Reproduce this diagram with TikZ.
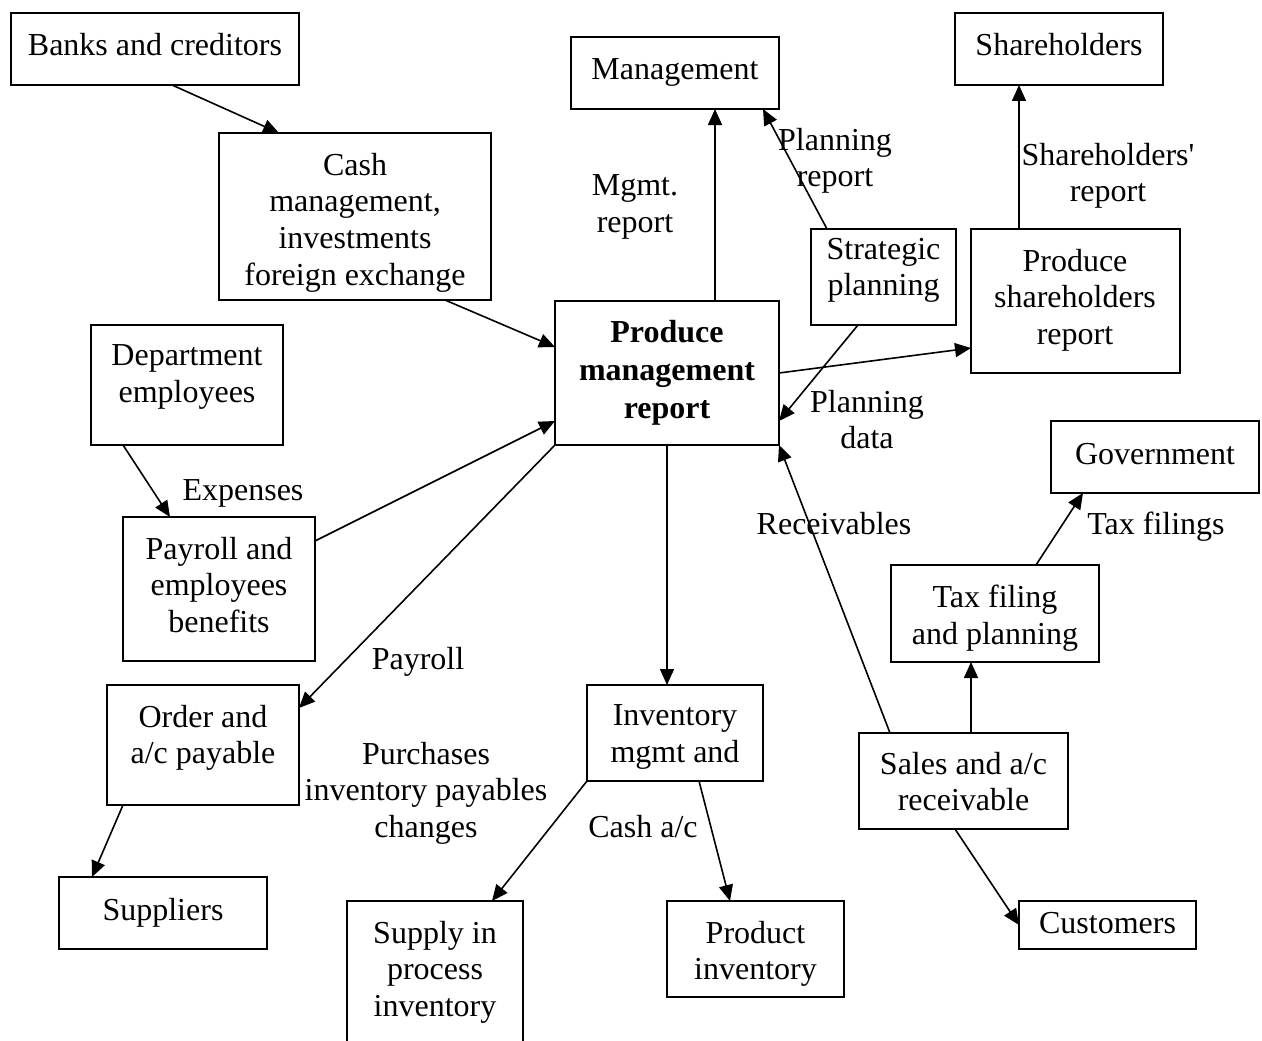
\documentclass[tikz,border=0pt]{standalone}
\usepackage{fontspec}
\setmainfont{Liberation Serif}
\usetikzlibrary{arrows.meta}
\begin{document}
\begin{tikzpicture}[x=1pt,y=-1pt,
  box/.style={draw, line width=1.6pt, rectangle, inner sep=0pt, outer sep=0pt},
  lbl/.style={anchor=north, yshift=23.76pt, inner sep=0pt, align=center,
    font=\fontsize{32}{36.8}\selectfont, execute at begin node=\strut},
  ml/.style={lbl, yshift=-3.5pt},
  flow/.style={line width=1.6pt, -{Triangle[length=16pt,width=14pt]}},
]
\fill[white] (0,0) rectangle (1262,1041);
\useasboundingbox (0,0) rectangle (1262,1041);
\clip (0,0) rectangle (1262,1041);

% process and entity boxes
\node[box, minimum width=288pt, minimum height=72pt]  (banks) at (155,49) {};
\node[box, minimum width=272pt, minimum height=167pt] (cash)  at (355,216.5) {};
\node[box, minimum width=208pt, minimum height=72pt]  (mgmt)  at (675,73) {};
\node[box, minimum width=208pt, minimum height=72pt]  (share) at (1059,49) {};
\node[box, minimum width=145pt, minimum height=96pt]  (strat) at (883.5,277) {};
\node[box, minimum width=209pt, minimum height=144pt] (psr)   at (1075.5,301) {};
\node[box, minimum width=224pt, minimum height=144pt] (main)  at (667,373) {};
\node[box, minimum width=192pt, minimum height=120pt] (dept)  at (187,385) {};
\node[box, minimum width=192pt, minimum height=144pt] (pay)   at (219,589) {};
\node[box, minimum width=192pt, minimum height=120pt] (order) at (203,745) {};
\node[box, minimum width=208pt, minimum height=72pt]  (supp)  at (163,913) {};
\node[box, minimum width=176pt, minimum height=160pt] (wip)   at (435,981) {};
\node[box, minimum width=176pt, minimum height=96pt]  (inv)   at (675,733) {};
\node[box, minimum width=177pt, minimum height=96pt]  (prod)  at (755.5,949) {};
\node[box, minimum width=208pt, minimum height=72pt]  (gov)   at (1155,457) {};
\node[box, minimum width=208pt, minimum height=97pt]  (tax)   at (995,613.5) {};
\node[box, minimum width=209pt, minimum height=96pt]  (sales) at (963.5,781) {};
\node[box, minimum width=177pt, minimum height=48pt]  (cust)  at (1107.5,925) {};

% flows
\draw[flow] ([xshift=17pt]banks.south) -- ([xshift=-76pt]cash.north);
\draw[flow] ([xshift=90pt]cash.south) -- ([yshift=26pt]main.west);
\draw[flow] ([xshift=48pt]main.north) -- ([xshift=48pt]main.north |- mgmt.south);
\draw[flow] ([xshift=-56.5pt]strat.north) -- ([xshift=-16pt]mgmt.south east);
\draw[flow] ([xshift=-25.5pt]strat.south) -- ([yshift=-48pt]main.east);
\draw[flow] (main.east) -- ([yshift=-47pt]psr.west);
\draw[flow] ([xshift=-56.5pt]psr.north) -- ([xshift=-56.5pt]psr.north |- share.south);
\draw[flow] ([xshift=-64pt]dept.south) -- ([xshift=-49pt]pay.north);
\draw[flow] ([yshift=48pt]pay.east) -- ([yshift=-48pt]main.west);
\draw[flow] (main.south west) -- ([yshift=37pt]order.east);
\draw[flow] ([xshift=-80pt]order.south) -- ([xshift=-71pt]supp.north);
\draw[flow] (main.south) -- (main.south |- inv.north);
\draw[flow] (inv.south west) -- ([xshift=57pt]wip.north);
\draw[flow] ([xshift=24pt]inv.south) -- ([xshift=-25.5pt]prod.north);
\draw[flow] ([xshift=-73.5pt]sales.north) -- (main.south east);
\draw[flow] ([xshift=7.5pt]sales.north) -- ([xshift=7.5pt]sales.north |- tax.south);
\draw[flow] ([xshift=41pt]tax.north) -- ([xshift=-72pt]gov.south);
\draw[flow] ([xshift=-8.5pt]sales.south) -- (cust.west);

% box texts (coordinates give the first baseline)
\node[lbl] (banksT) at (155,53) {Banks and creditors};
\node[ml] (cashT) at (355,173) {Cash\\management,\\investments\\foreign exchange};
\node[lbl] (mgmtT) at (675,77) {Management};
\node[lbl] (shareT) at (1059,53) {Shareholders};
\node[ml] (stratT) at (883.5,258) {Strategic\\planning};
\node[ml] (psrT) at (1075,269) {Produce\\shareholders\\report};
\node[ml, font=\fontsize{32}{38}\selectfont\bfseries] (mainT) at (667,340) {Produce\\management\\report};
\node[ml] (deptT) at (187,365) {Department\\employees};
\node[ml] (payT) at (219,557) {Payroll and\\employees\\benefits};
\node[ml] (orderT) at (203,725) {Order and\\a/c payable};
\node[lbl] (suppT) at (163,918) {Suppliers};
\node[ml] (wipT) at (435,941) {Supply in\\process\\inventory};
\node[ml] (invT) at (675,725) {Inventory\\mgmt and};
\node[ml] (prodT) at (755.5,941) {Product\\inventory};
\node[lbl] (govT) at (1155,462) {Government};
\node[ml] (taxT) at (995,605) {Tax filing\\and planning};
\node[ml] (salesT) at (963.5,772) {Sales and a/c\\receivable};
\node[lbl] (custT) at (1107.5,931) {Customers};

% flow labels
\node[ml] (mgmtL) at (635,195) {Mgmt.\\report};
\node[ml] (planRepL) at (835,148) {Planning\\report};
\node[ml] (shRepL) at (1108,163) {Shareholders\textquotesingle\\report};
\node[ml] (planDataL) at (867,410) {Planning\\data};
\node[lbl] (expL) at (243,498) {Expenses};
\node[lbl] (payL) at (418,667) {Payroll};
\node[ml] (purchL) at (426,762) {Purchases\\inventory payables\\changes};
\node[lbl] (cashL) at (643,835) {Cash a/c};
\node[lbl] (recvL) at (834,532) {Receivables};
\node[lbl] (taxL) at (1156,532) {Tax filings};
\end{tikzpicture}
\end{document}
